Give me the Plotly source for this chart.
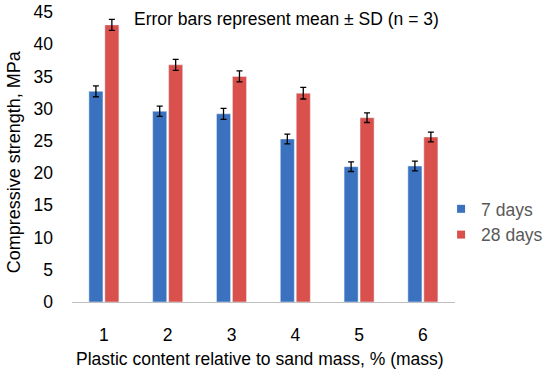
import plotly.graph_objects as go

categories = ["1", "2", "3", "4", "5", "6"]
days7 = [32.7, 29.6, 29.2, 25.3, 21.0, 21.1]
days7_sd = [0.85, 0.8, 0.85, 0.75, 0.75, 0.75]
days28 = [43.0, 36.8, 35.0, 32.4, 28.6, 25.6]
days28_sd = [0.85, 0.85, 0.85, 0.9, 0.75, 0.75]

FONT = "Liberation Sans, Arial, sans-serif"
BLUE = "#3A72C0"
RED = "#D9504D"

W, H = 550, 374
L, R, T, B = 72, 2, 12, 72
PLOT_RIGHT = 463  # pixel where plot area ends
paper_w = W - L - R
dom_end = (PLOT_RIGHT - L) / paper_w

fig = go.Figure()
fig.add_trace(go.Bar(
    x=categories, y=days7, name="7 days", marker_color=BLUE, showlegend=False,
    error_y=dict(type="data", array=days7_sd, color="black", thickness=1.3, width=3),
))
fig.add_trace(go.Bar(
    x=categories, y=days28, name="28 days", marker_color=RED, showlegend=False,
    error_y=dict(type="data", array=days28_sd, color="black", thickness=1.3, width=3),
))
# legend keys (small squares like the reference)
for nm, col in [("7 days", BLUE), ("28 days", RED)]:
    fig.add_trace(go.Scatter(x=[None], y=[None], mode="markers", name=nm,
                             marker=dict(symbol="square", size=8, color=col)))

fig.update_layout(
    width=W, height=H,
    margin=dict(l=L, r=R, t=T, b=B),
    paper_bgcolor="white", plot_bgcolor="white",
    font=dict(family=FONT, size=17.5, color="black"),
    barmode="group", bargap=0.5, bargroupgap=0.12,
    showlegend=True,
    legend=dict(x=(449 - L) / paper_w, y=0.276, xanchor="left", yanchor="middle",
                font=dict(size=17.5, color="#595959"), itemwidth=30,
                tracegroupgap=0, bgcolor="rgba(0,0,0,0)"),
    annotations=[
        dict(text="Error bars represent mean ± SD (n = 3)",
             x=0.56, y=0.976, xref="x domain", yref="y domain",
             xanchor="center", yanchor="middle", showarrow=False,
             font=dict(size=17.5, color="black")),
        dict(text="Plastic content relative to sand mass, % (mass)",
             x=0.492, y=-0.197, xref="x domain", yref="y domain",
             xanchor="center", yanchor="middle", showarrow=False,
             font=dict(size=17.5, color="black")),
        dict(text="Compressive strength, MPa", textangle=-90,
             x=-0.153, y=0.483, xref="x domain", yref="y domain",
             xanchor="center", yanchor="middle", showarrow=False,
             font=dict(size=18, color="black")),
    ],
)
fig.update_xaxes(
    domain=[0, dom_end], automargin=False,
    showline=True, linecolor="#BFBFBF", linewidth=1, showgrid=False,
    ticks="", ticklabelstandoff=17,
)
fig.update_yaxes(
    automargin=False,
    range=[0, 45], dtick=5, showgrid=False, showline=False, zeroline=False,
    ticks="", ticklabelstandoff=18,
)

fig.write_html("out.html", config={"displayModeBar": False},
               post_script="document.body.style.margin='0';")
